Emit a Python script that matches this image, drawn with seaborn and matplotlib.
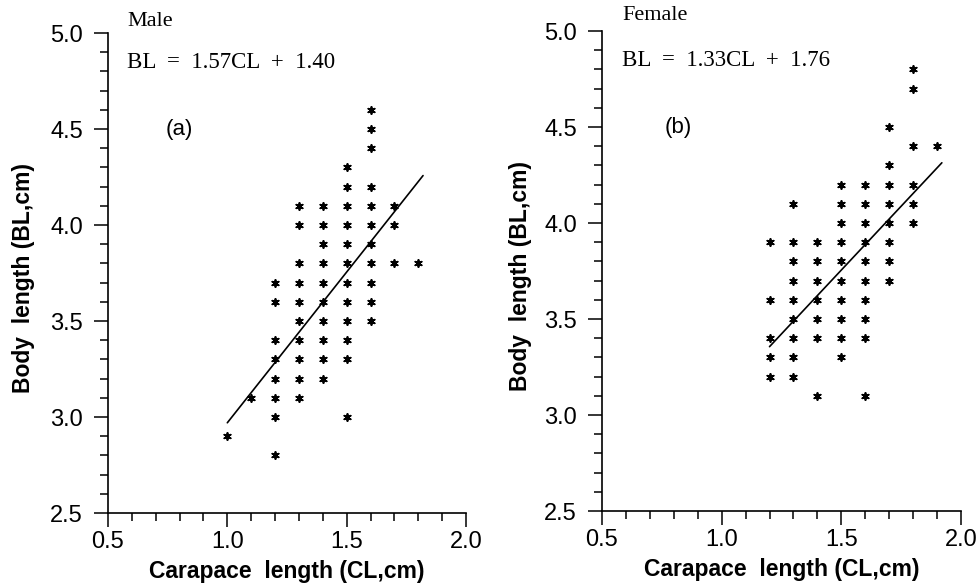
import numpy as np
import pandas as pd
import matplotlib
matplotlib.use("Agg")
import matplotlib.pyplot as plt
from matplotlib.ticker import MultipleLocator
import seaborn as sns

sns.set_theme(style="ticks")
plt.rcParams['font.family'] = ['Liberation Sans', 'DejaVu Sans']

# ---- Data: panel (a) Male ----
male_cl = [1.0, 1.1,
           1.2, 1.2, 1.2, 1.2, 1.2, 1.2, 1.2, 1.2,
           1.3, 1.3, 1.3, 1.3, 1.3, 1.3, 1.3, 1.3, 1.3, 1.3,
           1.4, 1.4, 1.4, 1.4, 1.4, 1.4, 1.4, 1.4, 1.4, 1.4,
           1.5, 1.5, 1.5, 1.5, 1.5, 1.5, 1.5, 1.5, 1.5, 1.5, 1.5, 1.5,
           1.6, 1.6, 1.6, 1.6, 1.6, 1.6, 1.6, 1.6, 1.6, 1.6, 1.6,
           1.7, 1.7, 1.7,
           1.8]
male_bl = [2.9, 3.1,
           3.7, 3.6, 3.4, 3.3, 3.2, 3.1, 3.0, 2.8,
           4.1, 4.0, 3.8, 3.7, 3.6, 3.5, 3.4, 3.3, 3.2, 3.1,
           4.1, 4.0, 3.9, 3.8, 3.7, 3.6, 3.5, 3.4, 3.3, 3.2,
           4.3, 4.2, 4.1, 4.0, 3.9, 3.8, 3.7, 3.6, 3.5, 3.4, 3.3, 3.0,
           4.6, 4.5, 4.4, 4.2, 4.1, 4.0, 3.9, 3.8, 3.7, 3.6, 3.5,
           4.1, 4.0, 3.8,
           3.8]
male_slope, male_intercept = 1.57, 1.40

# ---- Data: panel (b) Female ----
female_cl = [1.2, 1.2, 1.2, 1.2, 1.2,
             1.3, 1.3, 1.3, 1.3, 1.3, 1.3, 1.3, 1.3, 1.3,
             1.4, 1.4, 1.4, 1.4, 1.4, 1.4, 1.4,
             1.5, 1.5, 1.5, 1.5, 1.5, 1.5, 1.5, 1.5, 1.5, 1.5,
             1.6, 1.6, 1.6, 1.6, 1.6, 1.6, 1.6, 1.6, 1.6, 1.6,
             1.7, 1.7, 1.7, 1.7, 1.7, 1.7, 1.7, 1.7,
             1.8, 1.8, 1.8, 1.8, 1.8, 1.8,
             1.9]
female_bl = [3.9, 3.6, 3.4, 3.3, 3.2,
             4.1, 3.9, 3.8, 3.7, 3.6, 3.5, 3.4, 3.3, 3.2,
             3.9, 3.8, 3.7, 3.6, 3.5, 3.4, 3.1,
             4.2, 4.1, 4.0, 3.9, 3.8, 3.7, 3.6, 3.5, 3.4, 3.3,
             4.2, 4.1, 4.0, 3.9, 3.8, 3.7, 3.6, 3.5, 3.4, 3.1,
             4.5, 4.3, 4.2, 4.1, 4.0, 3.9, 3.8, 3.7,
             4.8, 4.7, 4.4, 4.2, 4.1, 4.0,
             4.4]
female_slope, female_intercept = 1.33, 1.76

x_ticks = [0.5, 1.0, 1.5, 2.0]
y_ticks = [2.5, 3.0, 3.5, 4.0, 4.5, 5.0]

panels = [
    dict(cl=male_cl, bl=male_bl, slope=male_slope, icpt=male_intercept,
         title="Male", eq="BL  =  1.57CL  +  1.40", tag="(a)",
         rect=[108/978, 1-513/584, 358/978, 480/584], ylab_x=-0.205,
         tx=0.053, ty=1.023, tagx=0.16),
    dict(cl=female_cl, bl=female_bl, slope=female_slope, icpt=female_intercept,
         title="Female", eq="BL  =  1.33CL  +  1.76", tag="(b)",
         rect=[602/978, 1-511/584, 359/978, 480/584], ylab_x=-0.195,
         tx=0.056, ty=1.033, tagx=0.175),
]

fig = plt.figure(figsize=(9.78, 5.84), dpi=100)
fig.patch.set_facecolor("white")

serif = ['Liberation Serif', 'DejaVu Serif']

for p in panels:
    ax = fig.add_axes(p["rect"])
    ax.set_facecolor("white")
    df = pd.DataFrame({"CL": p["cl"], "BL": p["bl"]})
    sns.scatterplot(data=df, x="CL", y="BL", ax=ax, marker=(6, 2, 0),
                    color="black", s=26, linewidth=1.3, legend=False, zorder=3)
    xs = np.array([df["CL"].min(), df["CL"].max() + 0.02])
    line_df = pd.DataFrame({"CL": xs, "BL": p["slope"] * xs + p["icpt"]})
    sns.lineplot(data=line_df, x="CL", y="BL", ax=ax, color="black",
                 linewidth=1.2, zorder=2)

    ax.set_xlim(0.5, 2.0)
    ax.set_ylim(2.5, 5.0)
    ax.xaxis.set_minor_locator(MultipleLocator(0.1))
    ax.yaxis.set_minor_locator(MultipleLocator(0.1))
    ax.set_xticks(x_ticks)
    ax.set_xticklabels([f"{v:.1f}" for v in x_ticks])
    ax.set_yticks(y_ticks)
    ax.set_yticklabels([f"{v:.1f}" for v in y_ticks])
    ax.tick_params(which="major", direction="out", length=10, width=1.1,
                   labelsize=17, color="black", labelcolor="black")
    ax.tick_params(axis="y", which="major", pad=8)
    ax.tick_params(axis="x", which="major", pad=3)
    ax.tick_params(which="minor", direction="out", length=6, width=1.1,
                   color="black")

    for side in ["top", "right"]:
        ax.spines[side].set_visible(False)
    for side in ["left", "bottom"]:
        ax.spines[side].set_linewidth(1.2)
        ax.spines[side].set_color("black")

    ax.set_xlabel("Carapace  length (CL,cm)", fontsize=16.5,
                  fontweight="bold", color="black")
    ax.set_ylabel("Body  length (BL,cm)", fontsize=16.5,
                  fontweight="bold", color="black")
    ax.xaxis.set_label_coords(0.5, -0.097)
    ax.yaxis.set_label_coords(p["ylab_x"], 0.49)

    ax.text(p["tx"], p["ty"], p["title"], transform=ax.transAxes,
            family=serif, fontsize=16, va="center", ha="left", color="black")
    ax.text(p["tx"], 0.9375, p["eq"], transform=ax.transAxes,
            family=serif, fontsize=16.5, va="center", ha="left", color="black")
    ax.text(p["tagx"], 0.798, p["tag"], transform=ax.transAxes,
            fontsize=16, va="center", ha="left", color="black")

fig.savefig("out.png", dpi=100, facecolor="white")
